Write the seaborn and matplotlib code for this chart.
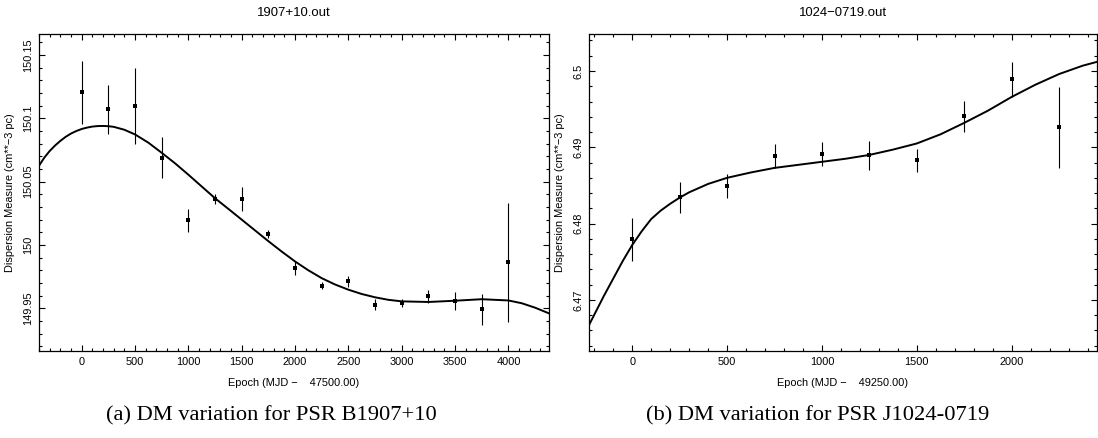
import numpy as np
import pandas as pd
import matplotlib
matplotlib.use('Agg')
import matplotlib.pyplot as plt
import seaborn as sns
from matplotlib.ticker import MultipleLocator, FuncFormatter

# PSR B1907+10 measurements
epoch_a = [0, 250, 500, 750, 1000, 1250, 1500, 1750, 2000, 2250, 2500, 2750, 3000, 3250, 3500, 3750, 4000]
dm_a = [150.1205, 150.107, 150.110, 150.069, 150.0195, 150.0363, 150.036, 150.0085, 149.9816, 149.968,
        149.9714, 149.953, 149.954, 149.9595, 149.9558, 149.9492, 149.9863]
err_a = [0.025, 0.019, 0.030, 0.016, 0.009, 0.004, 0.0095, 0.003, 0.0055, 0.003,
         0.0045, 0.0045, 0.003, 0.005, 0.007, 0.012, 0.047]
# fitted curve
fit_x_a = [-400, -350, -300, -250, -200, -150, -100, -50, 0, 50, 100, 150, 200, 250, 300, 400, 500,
           625, 750, 875, 1000, 1125, 1250, 1375, 1500, 1625, 1750, 1875, 2000, 2125, 2250, 2375,
           2500, 2625, 2750, 2875, 3000, 3250, 3500, 3750, 4000, 4125, 4250, 4380]
fit_y_a = [150.0626, 150.0690, 150.0742, 150.0785, 150.0822, 150.0854, 150.0880, 150.0900, 150.0916,
           150.0927, 150.0935, 150.0939, 150.0940, 150.0938, 150.0933, 150.0910, 150.0873,
           150.0808, 150.0728, 150.0645, 150.0555, 150.0462, 150.0369, 150.0285, 150.0200,
           150.0115, 150.0030, 149.9948, 149.9870, 149.9800, 149.9738, 149.9688, 149.9647,
           149.9613, 149.9587, 149.9567, 149.9555, 149.9550, 149.9560, 149.9572, 149.9562,
           149.9540, 149.9505, 149.9460]

# PSR J1024-0719 measurements
epoch_b = [0, 250, 500, 750, 1000, 1250, 1500, 1750, 2000, 2250]
dm_b = [6.47795, 6.48345, 6.48493, 6.48886, 6.48913, 6.48895, 6.4883, 6.49406, 6.49891, 6.49262]
err_b = [0.0028, 0.002, 0.0016, 0.0016, 0.0016, 0.0019, 0.0015, 0.002, 0.0023, 0.0053]
fit_x_b = [-228, -150, -100, -50, 0, 50, 100, 150, 200, 250, 300, 400, 500, 625, 750, 875, 1000,
           1125, 1250, 1375, 1500, 1625, 1750, 1875, 2000, 2125, 2250, 2375, 2450]
fit_y_b = [6.4667, 6.4705, 6.4728, 6.4751, 6.4772, 6.4790, 6.4806, 6.4817, 6.4826, 6.4834, 6.4841,
           6.4852, 6.4860, 6.4867, 6.4873, 6.4877, 6.4881, 6.4885, 6.4890, 6.4897, 6.4905, 6.4917,
           6.4932, 6.4948, 6.4966, 6.4982, 6.4996, 6.5007, 6.5012]

titles = ['1907+10.out', '1024\u22120719.out']
xlabels = ['Epoch (MJD \u2212    47500.00)', 'Epoch (MJD \u2212    49250.00)']
captions = ['(a) DM variation for PSR B1907+10', '(b) DM variation for PSR J1024-0719']

sns.set_style('ticks')
plt.rcParams['font.family'] = ['Liberation Sans', 'DejaVu Sans']
plt.rcParams['font.size'] = 7.9
plt.rcParams['text.color'] = 'black'
plt.rcParams['axes.labelcolor'] = 'black'

fig = plt.figure(figsize=(10.98, 4.38), dpi=100)
ax_a = fig.add_axes([39 / 1098, 1 - 351 / 438, 510 / 1098, 317 / 438])
ax_b = fig.add_axes([589 / 1098, 1 - 351 / 438, 508 / 1098, 317 / 438])

panels = [
    (ax_a, epoch_a, dm_a, err_a, fit_x_a, fit_y_a, (-400, 4380), (149.9163, 150.1666), 0.05, 0.01),
    (ax_b, epoch_b, dm_b, err_b, fit_x_b, fit_y_b, (-228, 2450), (6.4633, 6.50485), 0.01, 0.002),
]

fmt = FuncFormatter(lambda v, p: '%g' % round(v, 6))

for i, (ax, ex, dm, er, fx, fy, xl, yl, ymaj, ymin) in enumerate(panels):
    df = pd.DataFrame({'epoch': ex, 'dm': dm, 'err': er})
    fit = pd.DataFrame({'epoch': fx, 'dm': fy})
    ax.errorbar(df['epoch'], df['dm'], yerr=df['err'], fmt='none', ecolor='black', elinewidth=0.8, capsize=0)
    sns.lineplot(data=fit, x='epoch', y='dm', ax=ax, color='black', linewidth=1.4)
    sns.scatterplot(data=df, x='epoch', y='dm', ax=ax, marker='s', s=7, color='black', linewidth=0)
    ax.set_xlim(*xl)
    ax.set_ylim(*yl)
    ax.xaxis.set_major_locator(MultipleLocator(500))
    ax.xaxis.set_minor_locator(MultipleLocator(100))
    ax.yaxis.set_major_locator(MultipleLocator(ymaj))
    ax.yaxis.set_minor_locator(MultipleLocator(ymin))
    ax.yaxis.set_major_formatter(fmt)
    ax.tick_params(which='both', direction='in', top=True, right=True, width=0.8, colors='black')
    ax.tick_params(which='major', length=4.5, pad=4)
    ax.tick_params(which='minor', length=2)
    for lab in ax.get_yticklabels():
        lab.set_rotation(90)
        lab.set_va('center')
    for sp in ax.spines.values():
        sp.set_visible(True)
        sp.set_linewidth(0.9)
        sp.set_color('black')
    ax.set_xlabel(xlabels[i], labelpad=8)
    ax.set_ylabel('Dispersion Measure (cm**\u22123 pc)', labelpad=6)
    ax.set_title(titles[i], pad=13)

fig.text(271 / 1098, 0.050, captions[0], ha='center', va='center', family='Liberation Serif', fontsize=16.2)
fig.text(818 / 1098, 0.050, captions[1], ha='center', va='center', family='Liberation Serif', fontsize=16.2)

fig.savefig('out.png', dpi=100)
